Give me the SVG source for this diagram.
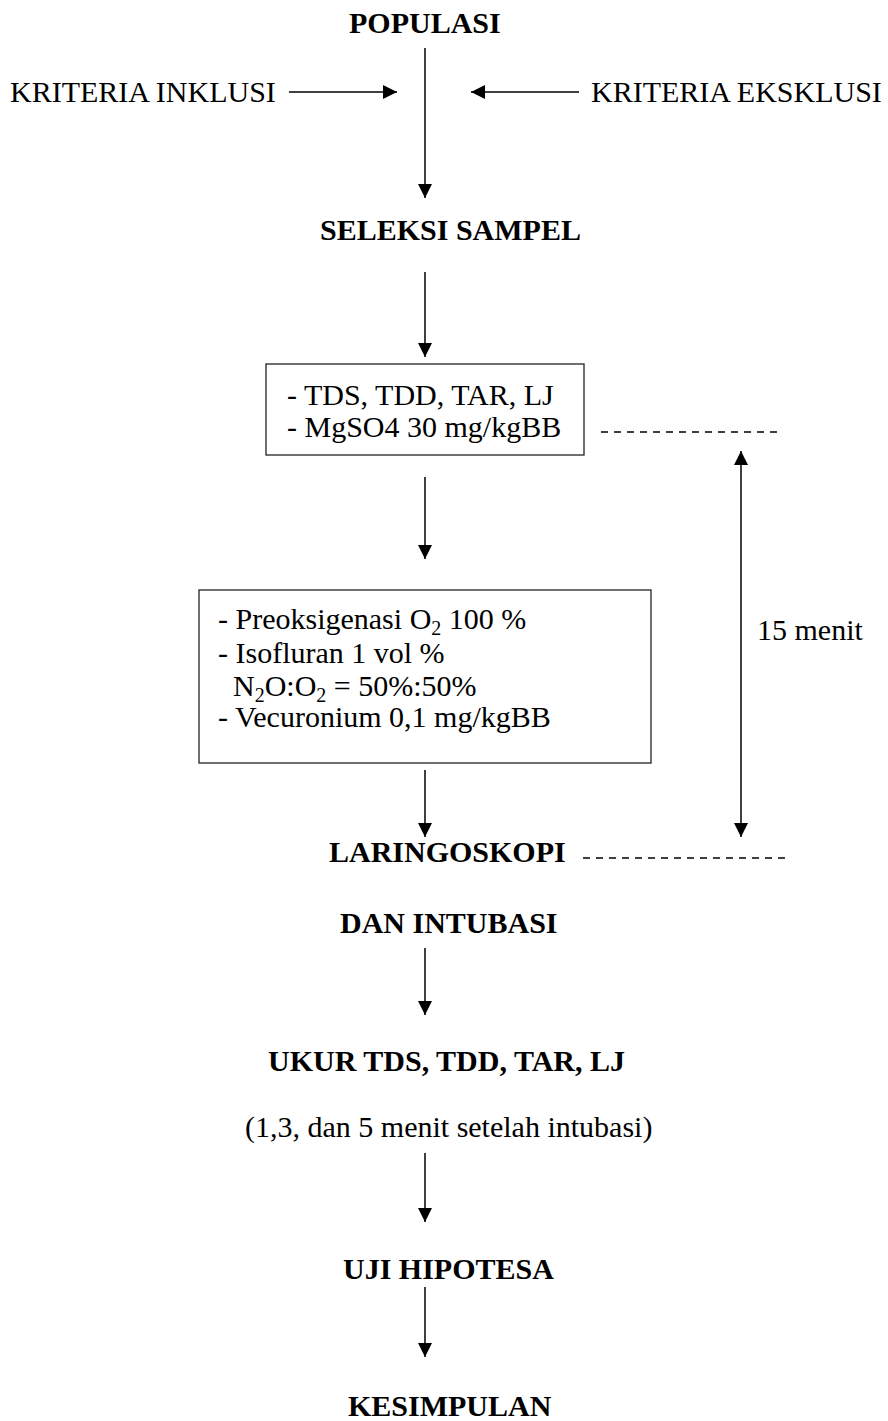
<svg xmlns="http://www.w3.org/2000/svg" width="888" height="1421" viewBox="0 0 888 1421">
  <style>
    text { font-family: "Liberation Serif", "Times New Roman", serif; font-size: 30px; fill: #000; }
    .b { font-weight: bold; }
    .sub { font-size: 20px; }
    .box { fill: #fff; stroke: #222; stroke-width: 1.3; }
    .conn { stroke: #000; stroke-width: 1.5; fill: none; }
    .arrow { marker-end: url(#head); }
    .dash { stroke: #000; stroke-width: 1.3; stroke-dasharray: 7 6; fill: none; }
  </style>
  <defs>
    <marker id="head" markerUnits="userSpaceOnUse" markerWidth="14" markerHeight="14" refX="14" refY="7" orient="auto-start-reverse">
      <path d="M0,0 L14,7 L0,14 z" fill="#000"/>
    </marker>
  </defs>
  <rect width="888" height="1421" fill="#fff"/>

  <!-- connectors -->
  <g id="connectors">
    <line class="conn arrow" x1="425" y1="48" x2="425" y2="198"/>
    <line class="conn arrow" x1="289" y1="92" x2="397" y2="92"/>
    <line class="conn arrow" x1="579" y1="92" x2="471" y2="92"/>
    <line class="conn arrow" x1="425" y1="272" x2="425" y2="357"/>
    <line class="conn arrow" x1="425" y1="477" x2="425" y2="559"/>
    <line class="conn arrow" x1="425" y1="770" x2="425" y2="837"/>
    <line class="conn arrow" x1="425" y1="948" x2="425" y2="1015"/>
    <line class="conn arrow" x1="425" y1="1153" x2="425" y2="1222"/>
    <line class="conn arrow" x1="425" y1="1287" x2="425" y2="1357"/>
    <!-- 15 minute interval -->
    <line class="conn" x1="741" y1="451" x2="741" y2="837" marker-start="url(#head)" marker-end="url(#head)"/>
    <line class="dash" x1="601" y1="432" x2="782" y2="432"/>
    <line class="dash" x1="583" y1="858" x2="788" y2="858"/>
  </g>

  <g id="populasi"><text class="b" x="349" y="33">POPULASI</text></g>
  <g id="kriteria-inklusi"><text x="10" y="102">KRITERIA INKLUSI</text></g>
  <g id="kriteria-eksklusi"><text x="591" y="102">KRITERIA EKSKLUSI</text></g>
  <g id="seleksi-sampel"><text class="b" x="320" y="240">SELEKSI SAMPEL</text></g>

  <g id="premedikasi">
    <rect class="box" x="266" y="364" width="318" height="91"/>
    <text x="287" y="405">- TDS, TDD, TAR, LJ</text>
    <text x="287" y="437">- MgSO4 30 mg/kgBB</text>
  </g>

  <g id="induksi">
    <rect class="box" x="199" y="590" width="452" height="173"/>
    <text x="218" y="629">- Preoksigenasi O<tspan class="sub" dy="6">2</tspan><tspan dy="-6"> 100 %</tspan></text>
    <text x="218" y="663">- Isofluran 1 vol %</text>
    <text x="233" y="696">N<tspan class="sub" dy="6">2</tspan><tspan dy="-6">O:O</tspan><tspan class="sub" dy="6">2</tspan><tspan dy="-6"> = 50%:50%</tspan></text>
    <text x="218" y="727">- Vecuronium 0,1 mg/kgBB</text>
  </g>

  <g id="interval"><text x="757" y="640">15 menit</text></g>
  <g id="laringoskopi">
    <text class="b" x="329" y="862">LARINGOSKOPI</text>
    <text class="b" x="340" y="933">DAN INTUBASI</text>
  </g>
  <g id="ukur">
    <text class="b" x="268" y="1071">UKUR TDS, TDD, TAR, LJ</text>
    <text x="245" y="1137">(1,3, dan 5 menit setelah intubasi)</text>
  </g>
  <g id="uji-hipotesa"><text class="b" x="343" y="1279">UJI HIPOTESA</text></g>
  <g id="kesimpulan"><text class="b" x="348" y="1416">KESIMPULAN</text></g>
</svg>
